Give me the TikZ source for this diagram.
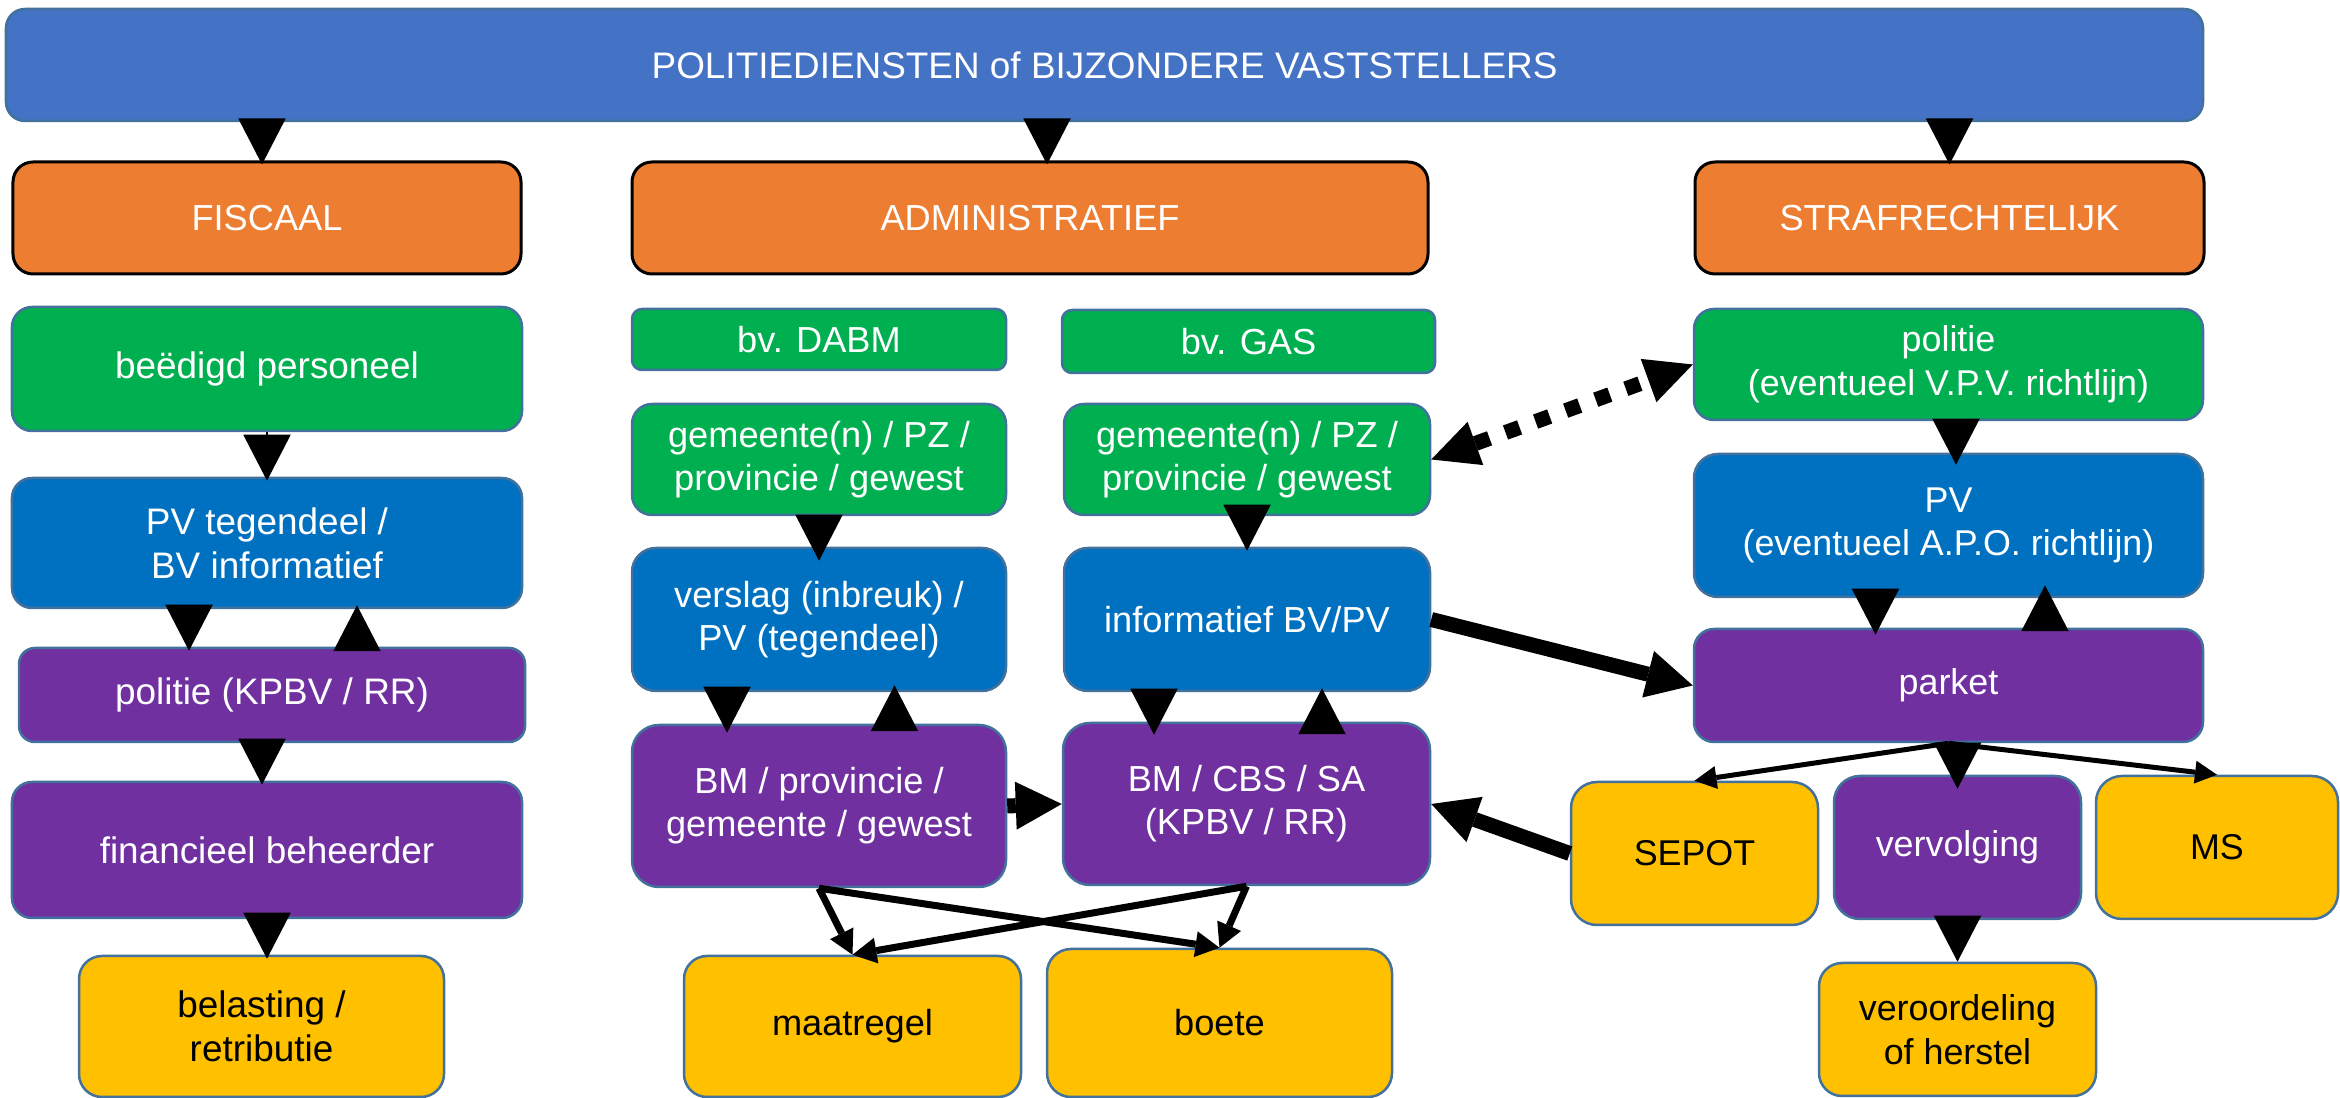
\documentclass[tikz,border=0pt]{standalone}
\usepackage{fontspec}
\setmainfont{Liberation Sans}
\usetikzlibrary{arrows.meta}
\definecolor{topblue}{HTML}{4472C4}
\definecolor{boxorange}{HTML}{ED7D31}
\definecolor{boxgreen}{HTML}{00B050}
\definecolor{boxblue}{HTML}{0070C0}
\definecolor{boxpurple}{HTML}{7030A0}
\definecolor{boxyellow}{HTML}{FFC000}
\definecolor{edge}{HTML}{41719C}
\tikzset{
  box/.style={rounded corners=0.2cm, draw=edge, line width=0.025cm, align=center, inner sep=0pt, text=white},
  obox/.style={box, fill=boxorange, draw=black, line width=0.03cm, font=\fontsize{10.3}{12.4}\selectfont},
  gbox/.style={box, fill=boxgreen},
  bbox/.style={box, fill=boxblue},
  pbox/.style={box, fill=boxpurple},
  ybox/.style={box, fill=boxyellow, text=black},
  leftcol/.style={font=\fontsize{10.5}{12.5}\selectfont},
  midcol/.style={font=\fontsize{10.3}{12.2}\selectfont},
  rightcol/.style={font=\fontsize{10.2}{12.4}\selectfont},
  triarrow/.style={line width=0.02cm, shorten >=-0.04cm, -{Triangle[width=0.47cm,length=0.46cm]}},
  fatarrow/.style={line width=0.15cm, -{Triangle[width=0.48cm,length=0.46cm,line width=0pt]}},
  dotarrow/.style={line width=0.15cm, dash pattern=on 0.15cm off 0.17cm,
    {Triangle[width=0.46cm,length=0.47cm,line width=0pt]}-{Triangle[width=0.46cm,length=0.47cm,line width=0pt]}},
  crossarrow/.style={line width=0.07cm, -{Triangle[width=0.26cm,length=0.24cm,line width=0pt]}},
  fanarrow/.style={line width=0.05cm, -{Triangle[width=0.23cm,length=0.22cm,line width=0pt]}}
}
\begin{document}
\begin{tikzpicture}
\useasboundingbox (0,0) rectangle (23.40,-10.98);
% bovenste balk en de drie takken
\node[box, fill=topblue, rounded corners=0.19cm, minimum width=21.97cm, minimum height=1.12cm, font=\fontsize{10.5}{12.6}\selectfont] (top) at (11.045,-0.65) {POLITIEDIENSTEN of BIJZONDERE VASTSTELLERS};
\node[obox, minimum width=5.08cm, minimum height=1.12cm] (fisc) at (2.67,-2.18) {FISCAAL};
\node[obox, minimum width=7.96cm, minimum height=1.12cm] (admin) at (10.30,-2.18) {ADMINISTRATIEF};
\node[obox, minimum width=5.09cm, minimum height=1.12cm] (straf) at (19.495,-2.18) {STRAFRECHTELIJK};
% fiscaal
\node[gbox, leftcol, minimum width=5.10cm, minimum height=1.24cm] (bp) at (2.67,-3.69) {beëdigd personeel};
\node[bbox, leftcol, minimum width=5.10cm, minimum height=1.30cm] (pvf) at (2.67,-5.43) {PV tegendeel /\\BV informatief};
\node[pbox, leftcol, minimum width=5.06cm, minimum height=0.94cm, rounded corners=0.16cm] (polf) at (2.72,-6.95) {politie (KPBV / RR)};
\node[pbox, leftcol, minimum width=5.10cm, minimum height=1.36cm] (fin) at (2.67,-8.50) {financieel beheerder};
\node[ybox, leftcol, minimum width=3.65cm, minimum height=1.41cm, rounded corners=0.23cm] (bel) at (2.615,-10.265) {belasting /\\retributie};
% administratief
\node[gbox, midcol, minimum width=3.74cm, minimum height=0.61cm, rounded corners=0.1cm] (dabm) at (8.19,-3.395) {bv. DABM};
\node[gbox, midcol, minimum width=3.73cm, minimum height=0.63cm, rounded corners=0.1cm] (gas) at (12.485,-3.415) {bv. GAS};
\node[gbox, midcol, minimum width=3.74cm, minimum height=1.11cm] (geml) at (8.19,-4.595) {gemeente(n) / PZ /\\provincie / gewest};
\node[gbox, midcol, minimum width=3.66cm, minimum height=1.11cm] (gemr) at (12.47,-4.595) {gemeente(n) / PZ /\\provincie / gewest};
\node[bbox, midcol, minimum width=3.74cm, minimum height=1.43cm, rounded corners=0.24cm] (vsl) at (8.19,-6.195) {verslag (inbreuk) /\\PV (tegendeel)};
\node[bbox, midcol, minimum width=3.66cm, minimum height=1.43cm, rounded corners=0.24cm] (inf) at (12.47,-6.195) {informatief BV/PV};
\node[pbox, midcol, minimum width=3.74cm, minimum height=1.62cm, rounded corners=0.27cm] (bml) at (8.19,-8.06) {BM / provincie /\\gemeente / gewest};
\node[pbox, midcol, minimum width=3.67cm, minimum height=1.62cm, rounded corners=0.27cm] (bmc) at (12.465,-8.04) {BM / CBS / SA\\(KPBV / RR)};
\node[ybox, midcol, minimum width=3.37cm, minimum height=1.41cm, rounded corners=0.23cm] (maat) at (8.525,-10.265) {maatregel};
\node[ybox, midcol, minimum width=3.45cm, minimum height=1.48cm, rounded corners=0.24cm] (boete) at (12.195,-10.23) {boete};
% strafrechtelijk
\node[gbox, rightcol, minimum width=5.09cm, minimum height=1.11cm] (polr) at (19.485,-3.645) {politie\\(eventueel V.P.V. richtlijn)};
\node[bbox, rightcol, minimum width=5.09cm, minimum height=1.43cm, rounded corners=0.24cm] (pvr) at (19.485,-5.255) {PV\\(eventueel A.P.O. richtlijn)};
\node[pbox, rightcol, minimum width=5.09cm, minimum height=1.13cm] (park) at (19.485,-6.855) {parket};
\node[ybox, rightcol, minimum width=2.47cm, minimum height=1.43cm, rounded corners=0.26cm] (sep) at (16.945,-8.535) {SEPOT};
\node[pbox, rightcol, minimum width=2.47cm, minimum height=1.43cm, rounded corners=0.26cm] (verv) at (19.575,-8.475) {vervolging};
\node[ybox, rightcol, minimum width=2.42cm, minimum height=1.43cm, rounded corners=0.26cm] (ms) at (22.17,-8.475) {MS};
\node[ybox, rightcol, minimum width=2.77cm, minimum height=1.33cm, rounded corners=0.23cm] (veroo) at (19.575,-10.295) {veroordeling\\of herstel};
% pijlen bovenaan
\draw[triarrow] ([xshift=-0.05cm]fisc.north |- top.south) -- ([xshift=-0.05cm]fisc.north);
\draw[triarrow] ([xshift=0.17cm]admin.north |- top.south) -- ([xshift=0.17cm]admin.north);
\draw[triarrow] (straf.north |- top.south) -- (straf.north);
% pijlen fiscaal
\draw[triarrow] (bp.south) -- (pvf.north);
\draw[triarrow] ([xshift=-0.78cm]pvf.south) -- ([xshift=-0.78cm]pvf.south |- polf.north);
\draw[triarrow] ([xshift=0.85cm]polf.north) -- ([xshift=0.85cm]polf.north |- pvf.south);
\draw[triarrow] ([xshift=-0.05cm]fin.north |- polf.south) -- ([xshift=-0.05cm]fin.north);
\draw[triarrow] (fin.south) -- (fin.south |- bel.north);
% pijlen administratief
\draw[triarrow, shorten >=-0.14cm] (geml.south) -- (vsl.north);
\draw[triarrow] (gemr.south) -- (inf.north);
\draw[triarrow, shorten >=-0.09cm] ([xshift=-0.92cm]vsl.south) -- ([xshift=-0.92cm]vsl.south |- bml.north);
\draw[triarrow, shorten >=-0.07cm] ([xshift=0.755cm]bml.north) -- ([xshift=0.755cm]bml.north |- vsl.south);
\draw[triarrow, shorten >=-0.13cm] ([xshift=-0.93cm]inf.south) -- ([xshift=-0.93cm]inf.south |- bmc.north);
\draw[triarrow] ([xshift=0.755cm]bmc.north) -- ([xshift=0.755cm]bmc.north |- inf.south);
\draw[fatarrow] (bml.east) -- (bmc.west);
\draw[crossarrow] (bml.south) -- (maat.north);
\draw[crossarrow] (bml.south) -- (boete.north);
\draw[crossarrow] (bmc.south) -- (boete.north);
\draw[crossarrow] (bmc.south) -- (maat.north);
% pijlen strafrechtelijk
\draw[triarrow, shorten >=-0.12cm] ([xshift=0.075cm]polr.south) -- ([xshift=0.075cm]polr.south |- pvr.north);
\draw[triarrow, shorten >=-0.07cm] ([xshift=-0.73cm]pvr.south) -- ([xshift=-0.73cm]pvr.south |- park.north);
\draw[triarrow, shorten >=-0.13cm] ([xshift=0.965cm]park.north) -- ([xshift=0.965cm]park.north |- pvr.south);
\draw[fanarrow] (park.south) -- (sep.north);
\draw[fanarrow] (park.south) -- (ms.north);
\draw[triarrow, shorten >=-0.14cm] (verv.north |- park.south) -- (verv.north);
\draw[triarrow, shorten >=0cm] (verv.south) -- (veroo.north);
% dwarsverbindingen
\draw[fatarrow] (inf.east) -- (park.west);
\draw[fatarrow] (sep.west) -- (bmc.east);
\draw[dotarrow] (gemr.east) -- (polr.west); % stippellijn
\end{tikzpicture}
\end{document}
